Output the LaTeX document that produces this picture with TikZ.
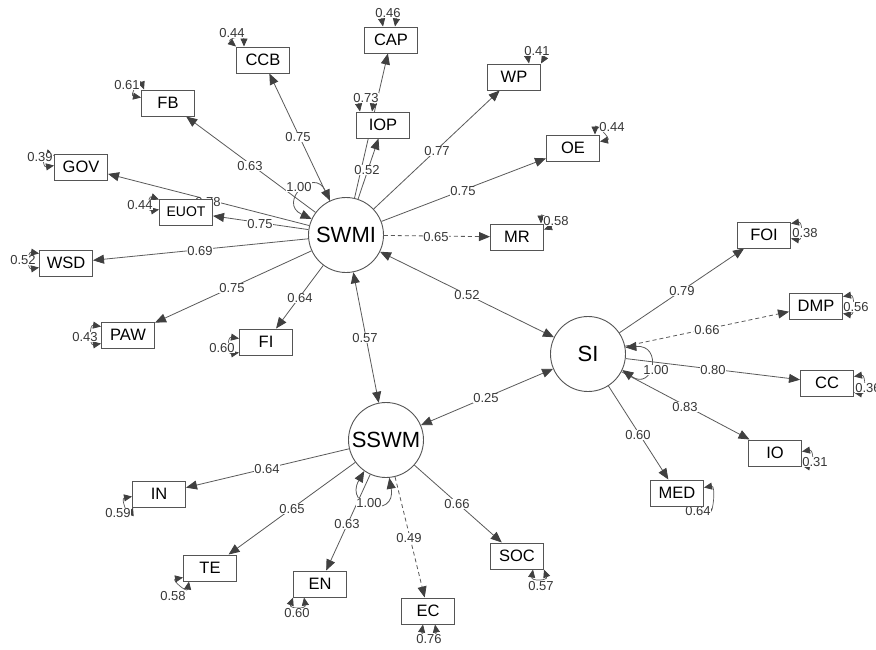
\documentclass[tikz,border=0pt]{standalone}
\usepackage{fontspec}
\setmainfont{Liberation Sans}
\usetikzlibrary{arrows.meta}
\pgfdeclarelayer{paper}
\pgfdeclarelayer{edgelayer}
\pgfsetlayers{paper,edgelayer,main}
\definecolor{edgegray}{RGB}{90,90,90}
\definecolor{tipgray}{RGB}{64,64,64}
\definecolor{labgray}{RGB}{55,55,55}
\definecolor{boxgray}{RGB}{85,85,85}

% small residual-variance loop on an indicator box
\newcommand\residloop[4]{\draw[resid] (#1) .. controls +(#2:12pt) and +(#4:12pt) .. (#3);}

\begin{document}
\begin{tikzpicture}[x=1pt,y=-1pt,
  manifest/.style={draw=boxgray, line width=1pt, fill=white, minimum width=53pt,
    minimum height=26pt, inner sep=0pt, font=\fontsize{16.5}{16.5}\selectfont},
  latent/.style={circle, draw=boxgray, line width=0.9pt, fill=white, minimum size=75pt,
    inner sep=0pt, font=\fontsize{22}{22}\selectfont},
  load/.style={draw=edgegray, line width=0.8pt,
    -{Triangle[length=11pt,width=9pt,color=tipgray]}},
  dload/.style={load, dash pattern=on 4pt off 3pt},
  cov/.style={draw=edgegray, line width=0.8pt,
    {Triangle[length=11pt,width=9pt,color=tipgray]}-{Triangle[length=11pt,width=9pt,color=tipgray]}},
  resid/.style={draw=edgegray, line width=0.7pt,
    {Triangle[length=8pt,width=7pt,color=tipgray]}-{Triangle[length=8pt,width=7pt,color=tipgray]}},
  vlab/.style={font=\fontsize{13}{13}\selectfont, text=labgray, fill=white, inner sep=0.4pt},
]
\begin{pgfonlayer}{paper}
\fill[white] (0,0) rectangle (876,649);
\end{pgfonlayer}
\useasboundingbox (0,0) rectangle (876,649);

% latent variables
\node[latent] (SWMI) at (346,235) {SWMI};
\node[latent] (SI)   at (588,354) {SI};
\node[latent] (SSWM) at (386,440) {SSWM};

% indicators of SWMI
\node[manifest] (CAP)  at (391,40)  {CAP};
\node[manifest] (IOP)  at (383,125) {IOP};
\node[manifest] (WP)   at (514,77)  {WP};
\node[manifest] (OE)   at (573,148) {OE};
\node[manifest] (CCB)  at (263,60)  {CCB};
\node[manifest] (FB)   at (168,103) {FB};
\node[manifest] (GOV)  at (81,167)  {GOV};
\node[manifest, font=\fontsize{14}{14}\selectfont] (EUOT) at (186,212) {EUOT};
\node[manifest] (WSD)  at (66,263)  {WSD};
\node[manifest] (PAW)  at (128,335) {PAW};
\node[manifest] (FI)   at (266,342) {FI};
\node[manifest] (MR)   at (517,237) {MR};
% indicators of SI
\node[manifest] (FOI)  at (764,235) {FOI};
\node[manifest] (DMP)  at (816,306) {DMP};
\node[manifest] (CC)   at (827,383) {CC};
\node[manifest] (IO)   at (775,453) {IO};
\node[manifest] (MED)  at (677,493) {MED};
% indicators of SSWM
\node[manifest] (IN)   at (159,494) {IN};
\node[manifest] (TE)   at (210,568) {TE};
\node[manifest] (EN)   at (320,584) {EN};
\node[manifest] (EC)   at (428,611) {EC};
\node[manifest] (SOC)  at (517,556) {SOC};

\begin{pgfonlayer}{edgelayer}
% loadings
\draw[load] (SWMI) -- (CAP);
\draw[load] (SWMI) -- (IOP);
\draw[load] (SWMI) -- (WP);
\draw[load] (SWMI) -- (OE);
\draw[load] (SWMI) -- (CCB);
\draw[load] (SWMI) -- (FB);
\draw[load] (SWMI) -- (GOV);
\draw[load] (SWMI) -- (EUOT);
\draw[load] (SWMI) -- (WSD);
\draw[load] (SWMI) -- (PAW);
\draw[load] (SWMI) -- (FI);
\draw[dload] (SWMI) -- (MR);
\draw[load] (SI) -- (FOI);
\draw[dload] (SI) -- (DMP);
\draw[load] (SI) -- (CC);
\draw[load] (SI) -- (IO);
\draw[load] (SI) -- (MED);
\draw[load] (SSWM) -- (IN);
\draw[load] (SSWM) -- (TE);
\draw[load] (SSWM) -- (EN);
\draw[dload] (SSWM) -- (EC);
\draw[load] (SSWM) -- (SOC);

% latent covariances
\draw[cov] (SWMI) -- (SSWM);
\draw[cov] (SWMI) -- (SI);
\draw[cov] (SSWM) -- (SI);

% latent variances
\draw[cov] (SWMI.115) .. controls +(115:38pt) and +(155:38pt) .. (SWMI.155);
\draw[cov] (SI.10) .. controls +(5:38pt) and +(-35:38pt) .. (SI.-25);
\draw[cov] (SSWM.235) .. controls +(240:42pt) and +(280:42pt) .. (SSWM.275);

% residual variances
\residloop{[xshift=-8pt]CAP.north}{100}{[xshift=4pt]CAP.north}{80}
\residloop{[xshift=-23pt]IOP.north}{100}{[xshift=-11pt]IOP.north}{80}
\residloop{[xshift=15pt]WP.north}{100}{WP.north east}{60}
\residloop{[xshift=-5pt]OE.north east}{90}{[yshift=-7pt]OE.north east}{10}
\residloop{CCB.north west}{140}{[xshift=8pt]CCB.north west}{90}
\residloop{[yshift=-8pt]FB.north west}{170}{[xshift=3pt]FB.north west}{110}
\residloop{[yshift=-12pt]GOV.north west}{190}{[yshift=-2pt]GOV.north west}{160}
\residloop{[yshift=-11pt]EUOT.north west}{190}{[yshift=-1pt]EUOT.north west}{160}
\residloop{[yshift=-4pt]WSD.north west}{170}{[yshift=-18pt]WSD.north west}{190}
\residloop{[yshift=-5pt]PAW.north west}{170}{[yshift=-22pt]PAW.north west}{190}
\residloop{[yshift=-10pt]FI.north west}{170}{[yshift=-24pt]FI.north west}{190}
\residloop{[xshift=-3pt]MR.north east}{90}{[yshift=-6pt]MR.north east}{20}
\residloop{[yshift=-2pt]FOI.north east}{10}{[yshift=-17pt]FOI.north east}{-10}
\residloop{[yshift=-4pt]DMP.north east}{10}{[yshift=-21pt]DMP.north east}{-10}
\residloop{[yshift=-7pt]CC.north east}{10}{[yshift=-23pt]CC.north east}{-10}
\residloop{[yshift=-12pt]IO.north east}{10}{[yshift=-26pt]IO.north east}{-10}
\residloop{[yshift=-8pt]MED.north east}{10}{MED.south east}{-40}
\residloop{[xshift=-11pt]SOC.south east}{-100}{SOC.south east}{-70}
\residloop{[xshift=-5pt]EC.south}{-100}{[xshift=7pt]EC.south}{-80}
\residloop{EN.south west}{-110}{[xshift=11pt]EN.south west}{-80}
\residloop{[yshift=4pt]TE.south west}{190}{[xshift=6pt]TE.south west}{-100}
\residloop{[yshift=11pt]IN.south west}{190}{[xshift=1pt]IN.south west}{-110}

% loading labels
\node[vlab] (lCAP)  at (208,202) {0.78};
\node[vlab] (lIOP)  at (367,170) {0.52};
\node[vlab] (lWP)   at (437,151) {0.77};
\node[vlab] (lOE)   at (463,191) {0.75};
\node[vlab] (lCCB)  at (298,137) {0.75};
\node[vlab] (lFB)   at (250,166) {0.63};
\node[vlab] (lEUOT) at (260,224) {0.75};
\node[vlab] (lWSD)  at (200,251) {0.69};
\node[vlab] (lPAW)  at (232,288) {0.75};
\node[vlab] (lFI)   at (300,298) {0.64};
\node[vlab] (lMR)   at (436,237) {0.65};
\node[vlab] (lFOI)  at (682,291) {0.79};
\node[vlab] (lDMP)  at (707,330) {0.66};
\node[vlab] (lCC)   at (713,370) {0.80};
\node[vlab] (lIO)   at (685,407) {0.83};
\node[vlab] (lMED)  at (638,435) {0.60};
\node[vlab] (lIN)   at (267,469) {0.64};
\node[vlab] (lTE)   at (292,509) {0.65};
\node[vlab] (lEN)   at (347,524) {0.63};
\node[vlab] (lEC)   at (409,538) {0.49};
\node[vlab] (lSOC)  at (457,504) {0.66};
\node[vlab] (lc1)   at (365,338) {0.57};
\node[vlab] (lc2)   at (467,295) {0.52};
\node[vlab] (lc3)   at (486,398) {0.25};
\node[vlab] (lv1)   at (299,187) {1.00};
\node[vlab] (lv2)   at (656,370) {1.00};
\node[vlab] (lv3)   at (369,503) {1.00};

% residual labels
\node[vlab] (rCAP)  at (388,13)  {0.46};
\node[vlab] (rIOP)  at (366,98)  {0.73};
\node[vlab] (rWP)   at (537,51)  {0.41};
\node[vlab] (rOE)   at (612,127) {0.44};
\node[vlab] (rCCB)  at (232,33)  {0.44};
\node[vlab] (rFB)   at (127,85)  {0.61};
\node[vlab] (rGOV)  at (40,157)  {0.39};
\node[vlab] (rEUOT) at (140,205) {0.44};
\node[vlab] (rWSD)  at (23,260)  {0.52};
\node[vlab] (rPAW)  at (85,337)  {0.43};
\node[vlab] (rFI)   at (222,348) {0.60};
\node[vlab] (rMR)   at (556,221) {0.58};
\node[vlab] (rFOI)  at (805,233) {0.38};
\node[vlab] (rDMP)  at (856,307) {0.56};
\node[vlab] (rCC)   at (868,388) {0.36};
\node[vlab] (rIO)   at (815,462) {0.31};
\node[vlab] (rMED)  at (698,511) {0.64};
\node[vlab] (rSOC)  at (541,586) {0.57};
\node[vlab] (rEC)   at (429,639) {0.76};
\node[vlab] (rEN)   at (297,613) {0.60};
\node[vlab] (rTE)   at (173,596) {0.58};
\node[vlab] (rIN)   at (118,513) {0.59};
\end{pgfonlayer}
\end{tikzpicture}
\end{document}
